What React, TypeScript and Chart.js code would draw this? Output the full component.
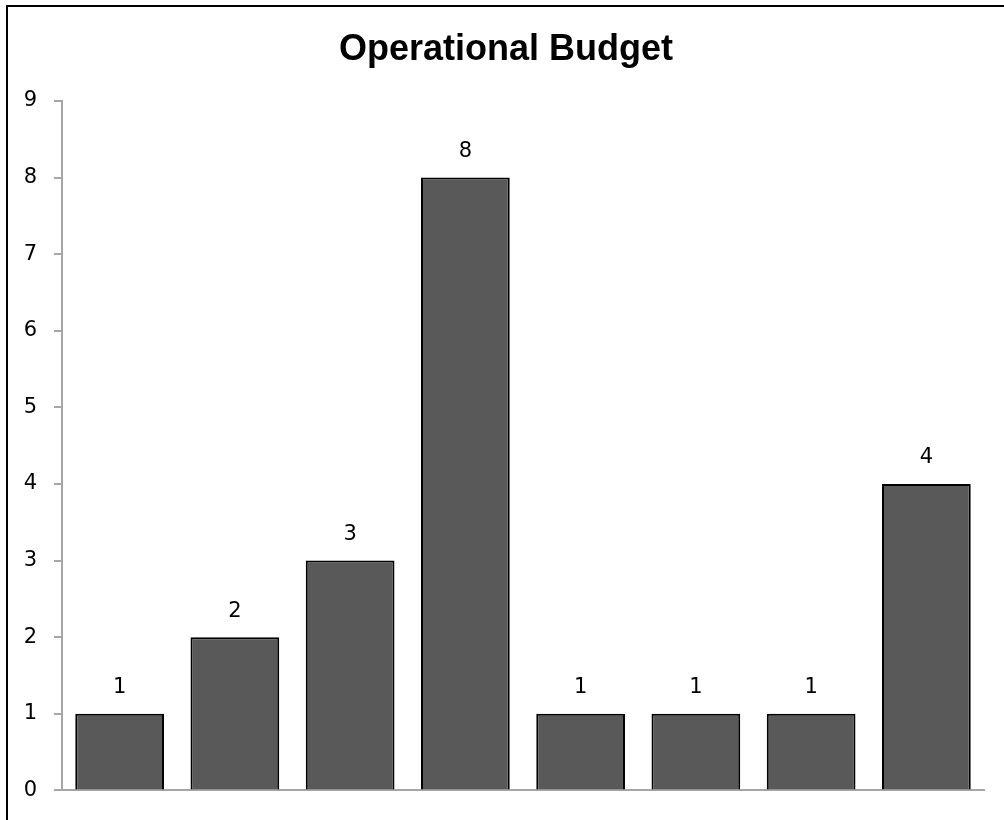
import React, { useEffect, useRef } from "react";
import { Chart, registerables } from "chart.js";

Chart.register(...registerables);

const title = "Operational Budget";
const categories = ["", "", "", "", "", "", "", ""];
const values = [1, 2, 3, 8, 1, 1, 1, 4];
const yTicks = [0, 1, 2, 3, 4, 5, 6, 7, 8, 9];

const FONT = "'DejaVu Sans', sans-serif";

const framePlugin = {
  id: "frameAndLabels",
  beforeDraw(chart: any) {
    const ctx = chart.ctx;
    ctx.save();
    ctx.fillStyle = "#ffffff";
    ctx.fillRect(0, 0, chart.width, chart.height);
    ctx.fillStyle = "#000000";
    ctx.fillRect(6, 5, 2, chart.height);
    ctx.fillRect(6, 5, chart.width, 2);
    ctx.restore();
  },
  afterDraw(chart: any) {
    const ctx = chart.ctx;
    ctx.save();
    ctx.fillStyle = "#000000";
    ctx.textAlign = "center";
    ctx.textBaseline = "middle";
    ctx.font = "bold 36px 'Liberation Sans', Arial, sans-serif";
    ctx.fillText(title, 506, 50);
    ctx.font = `21px ${FONT}`;
    const meta = chart.getDatasetMeta(0);
    meta.data.forEach((bar: any, i: number) => {
      ctx.fillText(String(values[i]), bar.x, bar.y - 26);
    });
    ctx.restore();
  },
};

export default function App() {
  const ref = useRef<HTMLCanvasElement | null>(null);
  useEffect(() => {
    if (!ref.current) return;
    const chart = new Chart(ref.current, {
      type: "bar",
      data: {
        labels: categories,
        datasets: [
          {
            data: values,
            backgroundColor: "#595959",
            borderColor: "#000000",
            borderWidth: 2,
            categoryPercentage: 1,
            barPercentage: 0.77,
          },
        ],
      },
      options: {
        responsive: false,
        animation: false,
        layout: { padding: { left: 0, right: 20, top: 101, bottom: 29 } },
        plugins: {
          legend: { display: false },
          title: { display: false },
          tooltip: { enabled: false },
        },
        scales: {
          x: {
            grid: { display: false },
            ticks: { display: false },
            border: { display: true, color: "#a6a6a6", width: 2 },
            afterFit(scale: any) {
              scale.height = 0;
            },
          },
          y: {
            min: 0,
            max: 9,
            afterBuildTicks(scale: any) {
              scale.ticks = yTicks.map((v) => ({ value: v }));
            },
            ticks: {
              color: "#000000",
              font: { family: FONT, size: 21 },
              padding: 17,
            },
            grid: {
              drawOnChartArea: false,
              drawTicks: true,
              tickLength: 8,
              color: "#a6a6a6",
              lineWidth: 2,
            },
            border: { display: true, color: "#a6a6a6", width: 2 },
            afterFit(scale: any) {
              scale.width = 62;
            },
          },
        },
      },
      plugins: [framePlugin],
    });
    return () => chart.destroy();
  }, []);
  return (
    <div style={{ position: "absolute", left: 0, top: 0, width: 1004, height: 820 }}>
      <canvas ref={ref} width={1004} height={820} />
    </div>
  );
}
